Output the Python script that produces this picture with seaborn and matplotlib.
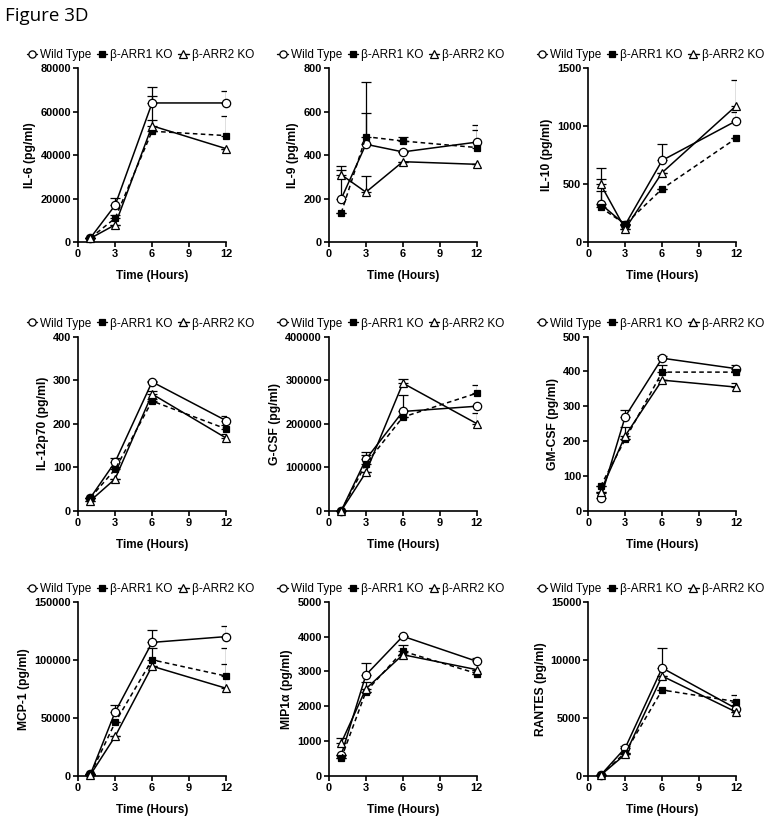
import numpy as np
import pandas as pd
import seaborn as sns
import matplotlib
matplotlib.use("Agg")
import matplotlib.pyplot as plt
from matplotlib.ticker import FuncFormatter
from matplotlib.lines import Line2D

# ---------------- data ----------------
time = [1, 3, 6, 12]
series_names = ["Wild Type", "β-ARR1 KO", "β-ARR2 KO"]

il6_wt = [2000, 17000, 64000, 64000]
il6_ko1 = [2000, 11000, 51000, 49000]
il6_ko2 = [1800, 8000, 53500, 43000]
il6_wt_err = [0, 3500, 7500, 5500]
il6_ko1_err = [0, 1500, 5000, 9000]
il6_ko2_err = [0, 0, 13500, 0]

il9_wt = [200, 450, 415, 460]
il9_ko1 = [135, 485, 465, 435]
il9_ko2 = [310, 230, 370, 358]
il9_wt_err = [130, 145, 0, 80]
il9_ko1_err = [0, 250, 20, 80]
il9_ko2_err = [40, 75, 0, 0]

il10_wt = [330, 150, 705, 1045]
il10_ko1 = [300, 155, 460, 895]
il10_ko2 = [500, 115, 600, 1175]
il10_wt_err = [215, 0, 145, 75]
il10_ko1_err = [140, 0, 0, 0]
il10_ko2_err = [140, 0, 0, 225]

il12_wt = [30, 112, 296, 207]
il12_ko1 = [30, 95, 252, 188]
il12_ko2 = [23, 73, 268, 167]
il12_wt_err = [0, 8, 3, 11]
il12_ko1_err = [0, 5, 5, 8]
il12_ko2_err = [0, 0, 8, 9]

gcsf_wt = [0, 118000, 228000, 240000]
gcsf_ko1 = [0, 108000, 215000, 270000]
gcsf_ko2 = [0, 88000, 293000, 200000]
gcsf_wt_err = [0, 17000, 37000, 0]
gcsf_ko1_err = [0, 20000, 0, 18000]
gcsf_ko2_err = [0, 0, 9000, 24000]

gmcsf_wt = [35, 270, 438, 408]
gmcsf_ko1 = [70, 205, 398, 398]
gmcsf_ko2 = [55, 215, 375, 355]
gmcsf_wt_err = [15, 20, 7, 10]
gmcsf_ko1_err = [0, 0, 20, 0]
gmcsf_ko2_err = [0, 25, 0, 13]

mcp1_wt = [1500, 55000, 115000, 120000]
mcp1_ko1 = [1500, 46000, 100000, 86000]
mcp1_ko2 = [1000, 34000, 94500, 75500]
mcp1_wt_err = [0, 6000, 11000, 9000]
mcp1_ko1_err = [0, 0, 10000, 24000]
mcp1_ko2_err = [0, 0, 0, 21000]

mip_wt = [600, 2900, 4010, 3290]
mip_ko1 = [500, 2420, 3580, 2940]
mip_ko2 = [950, 2500, 3480, 3050]
mip_wt_err = [0, 330, 0, 100]
mip_ko1_err = [0, 0, 170, 0]
mip_ko2_err = [150, 200, 0, 0]

rantes_wt = [50, 2400, 9300, 5800]
rantes_ko1 = [50, 2000, 7400, 6400]
rantes_ko2 = [50, 1850, 8600, 5500]
rantes_wt_err = [0, 200, 1700, 300]
rantes_ko1_err = [0, 0, 0, 600]
rantes_ko2_err = [0, 0, 0, 0]

panels = [
    ("IL-6 (pg/ml)", 80000, 20000, (il6_wt, il6_ko1, il6_ko2), (il6_wt_err, il6_ko1_err, il6_ko2_err)),
    ("IL-9 (pg/ml)", 800, 200, (il9_wt, il9_ko1, il9_ko2), (il9_wt_err, il9_ko1_err, il9_ko2_err)),
    ("IL-10 (pg/ml)", 1500, 500, (il10_wt, il10_ko1, il10_ko2), (il10_wt_err, il10_ko1_err, il10_ko2_err)),
    ("IL-12p70 (pg/ml)", 400, 100, (il12_wt, il12_ko1, il12_ko2), (il12_wt_err, il12_ko1_err, il12_ko2_err)),
    ("G-CSF (pg/ml)", 400000, 100000, (gcsf_wt, gcsf_ko1, gcsf_ko2), (gcsf_wt_err, gcsf_ko1_err, gcsf_ko2_err)),
    ("GM-CSF (pg/ml)", 500, 100, (gmcsf_wt, gmcsf_ko1, gmcsf_ko2), (gmcsf_wt_err, gmcsf_ko1_err, gmcsf_ko2_err)),
    ("MCP-1 (pg/ml)", 150000, 50000, (mcp1_wt, mcp1_ko1, mcp1_ko2), (mcp1_wt_err, mcp1_ko1_err, mcp1_ko2_err)),
    ("MIP1α (pg/ml)", 5000, 1000, (mip_wt, mip_ko1, mip_ko2), (mip_wt_err, mip_ko1_err, mip_ko2_err)),
    ("RANTES (pg/ml)", 15000, 5000, (rantes_wt, rantes_ko1, rantes_ko2), (rantes_wt_err, rantes_ko1_err, rantes_ko2_err)),
]

# ---------------- style ----------------
sns.set_style("ticks")
plt.rcParams["font.family"] = ["Liberation Sans", "DejaVu Sans"]
plt.rcParams.update({
    "text.color": "black",
    "axes.labelcolor": "black",
    "axes.edgecolor": "black",
    "xtick.color": "black",
    "ytick.color": "black",
    "legend.labelcolor": "black",
})

styles = [
    dict(marker="o", mfc="white", ls="-", ms=6.0),
    dict(marker="s", mfc="black", ls=(0, (3, 2.2)), ms=5.0),
    dict(marker="^", mfc="white", ls="-", ms=6.0),
]

fig = plt.figure(figsize=(7.74, 8.21), dpi=100)
lefts = [0.101, 0.425, 0.760]
bottoms = [0.705, 0.378, 0.055]
w, h = 0.191, 0.212

for i, (ylabel, ymax, ystep, means, errs) in enumerate(panels):
    r, c = divmod(i, 3)
    ax = fig.add_axes([lefts[c], bottoms[r], w, h])
    for k in range(3):
        st = styles[k]
        df = pd.DataFrame({"time": time, "value": means[k]})
        ax.errorbar(time, means[k], yerr=[np.zeros(4), np.array(errs[k])],
                    fmt="none", ecolor="black", elinewidth=0.9, capsize=3.5,
                    capthick=0.9, zorder=2)
        sns.lineplot(data=df, x="time", y="value", ax=ax, color="black",
                     linewidth=1.1, linestyle=st["ls"], marker=st["marker"],
                     markersize=st["ms"], markerfacecolor=st["mfc"],
                     markeredgecolor="black", markeredgewidth=0.9,
                     legend=False, zorder=3, clip_on=False)
    ax.set_xlim(0, 12)
    ax.set_ylim(0, ymax)
    ax.set_xticks([0, 3, 6, 9, 12])
    ax.set_yticks(np.arange(0, ymax + ystep / 2, ystep))
    ax.yaxis.set_major_formatter(FuncFormatter(lambda v, p: f"{int(round(v))}"))
    sns.despine(ax=ax)
    for sp in ["left", "bottom"]:
        ax.spines[sp].set_linewidth(1.2)
        ax.spines[sp].set_color("black")
    ax.tick_params(axis="both", width=1.2, length=3.5, labelsize=7.9, pad=1.5,
                   colors="black")
    for lab in ax.get_xticklabels() + ax.get_yticklabels():
        lab.set_fontweight("bold")
    ax.set_xlabel("Time (Hours)", fontsize=8.5, fontweight="bold", labelpad=8,
                  color="black")
    ax.set_ylabel(ylabel, fontsize=8.7, fontweight="bold", labelpad=3, color="black")

    handles = [Line2D([0], [0], color="black", lw=1.0, marker=styles[k]["marker"],
                      ms=styles[k]["ms"] - 0.8, mfc=styles[k]["mfc"], mec="black",
                      mew=0.9) for k in range(3)]
    ax.legend(handles, series_names, loc="lower center", bbox_to_anchor=(0.42, 1.0),
              ncol=3, frameon=False, fontsize=8.5, handlelength=0.9,
              handletextpad=0.25, columnspacing=0.45, borderaxespad=0.4,
              borderpad=0.2, labelcolor="black")

fig.text(0.006, 0.981, "Figure 3D", fontsize=13.5, family=["Open Sans", "DejaVu Sans"],
         va="center", ha="left", color="black")

fig.savefig("out.png", dpi=100)
